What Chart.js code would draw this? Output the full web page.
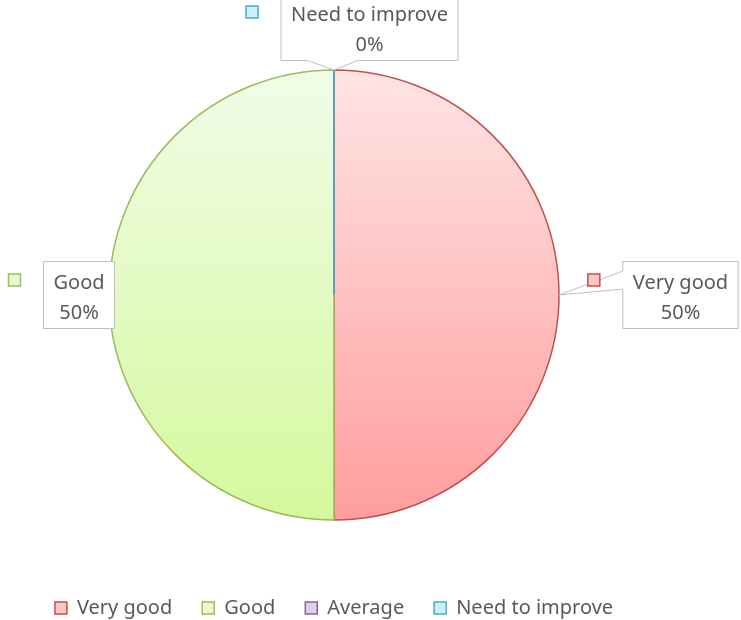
<!DOCTYPE html>
<html><head><meta charset="utf-8">
<script src="https://cdn.jsdelivr.net/npm/chart.js@4/dist/chart.umd.min.js"></script>
<style>html,body{margin:0;padding:0;background:#fff}#wrap{width:741px;height:620px}</style>
</head><body><div id="wrap"><canvas id="c" width="741" height="620"></canvas></div>
<script>
const categories = ['Very good', 'Good', 'Average', 'Need to improve'];
const values = [50, 50, 0, 0];
const percentLabels = ['50%', '50%', '0%', '0%'];
const borderColors = ['#C0504D', '#9BBB59', '#8064A2', '#4BACC6'];
const topColors = ['#FFE4E4', '#F1FCE8', '#E9E2F2', '#E2F6FB'];
const bottomColors = ['#FF9E9E', '#D4F99C', '#BBA8D8', '#9CE2F3'];
const legendFill = ['#FFC6C6', '#E9FBCF', '#DCD0EC', '#CBF0FA'];

const FONT = '"Noto Sans", sans-serif';
const TEXT_COLOR = '#595959';
const PIE_RADIUS = 225;

// label callout layout: box centre offset from the slice's outer mid point
const calloutLayout = {
  0: {dx: 121.5, dy: 0, side: 'left', base: [-24, -6]},
  1: {dx: -30, dy: 0, side: 'none'},
  3: {dx: 35.5, dy: -43, side: 'bottom', base: [-62, -12]}
};

const calloutPlugin = {
  id: 'callouts',
  afterDatasetsDraw(chart) {
    const ctx = chart.ctx;
    const meta = chart.getDatasetMeta(0);
    // zero-size slices: draw their border line
    [2, 3].forEach(i => {
      const el = meta.data[i];
      if (values[i] === 0) {
        ctx.save();
        ctx.strokeStyle = borderColors[i];
        ctx.lineWidth = 1.5;
        ctx.beginPath();
        ctx.moveTo(el.x, el.y);
        ctx.lineTo(el.x + Math.cos(el.startAngle) * el.outerRadius, el.y + Math.sin(el.startAngle) * el.outerRadius);
        ctx.stroke();
        ctx.restore();
      }
    });
    ctx.save();
    ctx.font = '20px ' + FONT;
    Object.keys(calloutLayout).forEach(k => {
      const i = +k;
      const L = calloutLayout[i];
      const el = meta.data[i];
      const mid = (el.startAngle + el.endAngle) / 2;
      const ax = el.x + Math.cos(mid) * el.outerRadius;
      const ay = el.y + Math.sin(mid) * el.outerRadius;
      const l1 = categories[i], l2 = percentLabels[i];
      const tw = Math.max(ctx.measureText(l1).width, ctx.measureText(l2).width);
      const w = tw + 20, h = 67;
      const cx = ax + L.dx, cy = ay + L.dy;
      const x0 = cx - w / 2, x1 = cx + w / 2, y0 = cy - h / 2, y1 = cy + h / 2;
      ctx.beginPath();
      if (L.side === 'left') {
        ctx.moveTo(x0, y0); ctx.lineTo(x1, y0); ctx.lineTo(x1, y1); ctx.lineTo(x0, y1);
        ctx.lineTo(x0, cy + L.base[1]); ctx.lineTo(ax, ay); ctx.lineTo(x0, cy + L.base[0]);
        ctx.closePath();
      } else if (L.side === 'bottom') {
        ctx.moveTo(x0, y0); ctx.lineTo(x1, y0); ctx.lineTo(x1, y1);
        ctx.lineTo(cx + L.base[1], y1); ctx.lineTo(ax, ay); ctx.lineTo(cx + L.base[0], y1);
        ctx.lineTo(x0, y1); ctx.closePath();
      } else {
        ctx.rect(x0, y0, w, h);
      }
      ctx.fillStyle = '#FFFFFF';
      ctx.fill();
      ctx.strokeStyle = '#BFBFBF';
      ctx.lineWidth = 1;
      ctx.stroke();
      ctx.fillStyle = TEXT_COLOR;
      ctx.textAlign = 'center';
      ctx.textBaseline = 'middle';
      ctx.fillText(l1, cx, cy - 12);
      ctx.fillText(l2, cx, cy + 18);
      // key square
      const kx = x0 - 35;
      const ky = cy - 21;
      ctx.fillStyle = legendFill[i];
      ctx.fillRect(kx, ky, 12, 12);
      ctx.strokeStyle = borderColors[i];
      ctx.lineWidth = 1.5;
      ctx.strokeRect(kx, ky, 12, 12);
    });
    ctx.restore();
  }
};

function sliceGradient(c) {
  const chart = c.chart;
  const a = chart.chartArea;
  const i = c.dataIndex;
  if (!a) return topColors[i];
  const cy = (a.top + a.bottom) / 2;
  const g = chart.ctx.createLinearGradient(0, cy - PIE_RADIUS, 0, cy + PIE_RADIUS);
  g.addColorStop(0, topColors[i]);
  g.addColorStop(1, bottomColors[i]);
  return g;
}

new Chart(document.getElementById('c'), {
  type: 'pie',
  data: {
    labels: categories,
    datasets: [{
      data: values,
      backgroundColor: sliceGradient,
      borderColor: borderColors,
      borderWidth: 1.5,
      radius: PIE_RADIUS
    }]
  },
  options: {
    responsive: false,
    devicePixelRatio: 1,
    animation: false,
    layout: {padding: {left: 0, right: 73, top: 22, bottom: -8}},
    plugins: {
      tooltip: {enabled: false},
      legend: {
        position: 'bottom',
        labels: {
          font: {family: FONT, size: 20},
          color: TEXT_COLOR,
          boxWidth: 12,
          boxHeight: 12,
          padding: 30,
          generateLabels: () => categories.map((t, i) => ({
            text: t, fillStyle: legendFill[i], strokeStyle: borderColors[i], lineWidth: 1.5,
            hidden: false, index: i, fontColor: TEXT_COLOR
          }))
        }
      }
    }
  },
  plugins: [calloutPlugin]
});
</script>
</body></html>
